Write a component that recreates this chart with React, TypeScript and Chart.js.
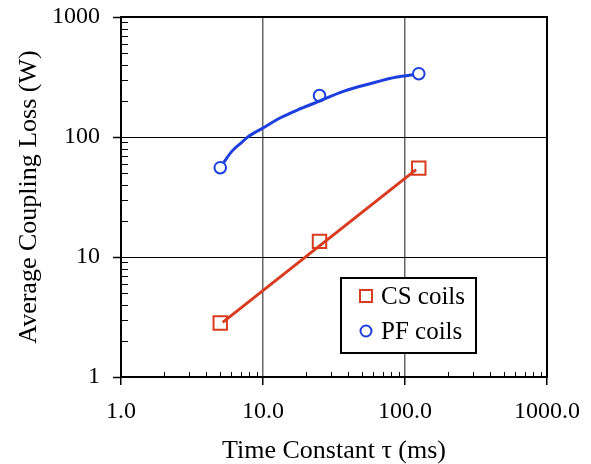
import React, { useEffect, useRef } from 'react';
import { Chart, registerables } from 'chart.js';

Chart.register(...registerables);

// ---- data ----
const tauMs = [5, 25, 125];
const csLoss = [2.82, 13.5, 55];
const pfLoss = [55.5, 221, 337];
const csFitTau = [5.2, 119.7];
const csFitLoss = [2.85, 53.4];
const pfFitTau = [5.29, 6.03, 7.09, 7.81, 10, 13.5, 17.7, 23.2, 36.8, 56.7, 87.5, 114.6];
const pfFitLoss = [61.4, 75.9, 90.2, 100, 119, 146, 169, 192, 240, 278, 316, 330];
const xMajorTicks = [1, 10, 100, 1000];
const yMajorTicks = [1, 10, 100, 1000];
const minorMultipliers = [2, 3, 4, 5, 6, 7, 8, 9];
const seriesLabels = ['CS coils', 'PF coils'];

const RED = '#d93b1f';
const BLUE = '#1c3fde';
const FONT = "'Liberation Serif', 'Times New Roman', serif";

const minorTicksPlugin = {
  id: 'minorTicksAndFrame',
  beforeDatasetsDraw(chart: any) {
    const { ctx, chartArea } = chart;
    const xs = chart.scales.x;
    const ys = chart.scales.y;
    ctx.save();
    ctx.strokeStyle = '#000';
    ctx.lineWidth = 1;
    for (let k = 0; k < 3; k++) {
      for (const m of minorMultipliers) {
        const v = m * Math.pow(10, k);
        const py = Math.round(ys.getPixelForValue(v)) + 0.5;
        ctx.beginPath();
        ctx.moveTo(chartArea.left, py);
        ctx.lineTo(chartArea.left + 7, py);
        ctx.stroke();
        const px = Math.round(xs.getPixelForValue(v)) + 0.5;
        ctx.beginPath();
        ctx.moveTo(px, chartArea.bottom);
        ctx.lineTo(px, chartArea.bottom - 5);
        ctx.stroke();
      }
    }
    ctx.lineWidth = 2;
    ctx.strokeRect(chartArea.left, chartArea.top, chartArea.right - chartArea.left, chartArea.bottom - chartArea.top);
    ctx.restore();
  },
  afterDatasetsDraw(chart: any) {
    const { ctx, chartArea } = chart;
    const bx = chartArea.left + 220;
    const by = chartArea.top + 261;
    const bw = 135;
    const bh = 75;
    ctx.save();
    ctx.fillStyle = '#fff';
    ctx.fillRect(bx, by, bw, bh);
    ctx.strokeStyle = '#000';
    ctx.lineWidth = 2;
    ctx.strokeRect(bx, by, bw, bh);
    const rows = [by + 18, by + 53];
    ctx.lineWidth = 2;
    ctx.strokeStyle = RED;
    ctx.strokeRect(bx + 19, rows[0] - 6, 12, 12);
    ctx.strokeStyle = BLUE;
    ctx.beginPath();
    ctx.arc(bx + 25, rows[1], 5.5, 0, Math.PI * 2);
    ctx.stroke();
    ctx.fillStyle = '#000';
    ctx.font = `25px ${FONT}`;
    ctx.textBaseline = 'middle';
    ctx.textAlign = 'left';
    ctx.fillText(seriesLabels[0], bx + 40, rows[0] + 1);
    ctx.fillText(seriesLabels[1], bx + 40, rows[1] + 1);
    ctx.restore();
  },
};

export default function App() {
  const ref = useRef<HTMLCanvasElement>(null);
  useEffect(() => {
    if (!ref.current) return;
    const chart = new Chart(ref.current, {
      type: 'scatter',
      data: {
        datasets: [
          {
            label: seriesLabels[0],
            data: tauMs.map((t, i) => ({ x: t, y: csLoss[i] })),
            pointStyle: 'rect',
            pointRadius: 9.5,
            pointBorderWidth: 2,
            borderColor: RED,
            backgroundColor: 'rgba(0,0,0,0)',
            showLine: false,
          },
          {
            label: seriesLabels[1],
            data: tauMs.map((t, i) => ({ x: t, y: pfLoss[i] })),
            pointStyle: 'circle',
            pointRadius: 5.8,
            pointBorderWidth: 2,
            borderColor: BLUE,
            backgroundColor: 'rgba(0,0,0,0)',
            showLine: false,
          },
          {
            label: 'CS fit',
            data: csFitTau.map((t, i) => ({ x: t, y: csFitLoss[i] })),
            showLine: true,
            pointRadius: 0,
            borderColor: RED,
            borderWidth: 3,
          },
          {
            label: 'PF fit',
            data: pfFitTau.map((t, i) => ({ x: t, y: pfFitLoss[i] })),
            showLine: true,
            pointRadius: 0,
            borderColor: BLUE,
            borderWidth: 3,
            cubicInterpolationMode: 'monotone',
          },
        ],
      },
      options: {
        responsive: false,
        animation: false,
        devicePixelRatio: 1,
        layout: { autoPadding: false, padding: { top: 17, right: 44, left: 0, bottom: 0 } },
        plugins: { legend: { display: false }, tooltip: { enabled: false } },
        scales: {
          x: {
            type: 'logarithmic',
            min: 1,
            max: 1000,
            afterBuildTicks: (s: any) => {
              s.ticks = xMajorTicks.map((v) => ({ value: v, major: true }));
            },
            afterFit: (s: any) => {
              s.height = 87;
              s.paddingLeft = 0;
              s.paddingRight = 0;
            },
            ticks: {
              callback: (v: any) => Number(v).toFixed(1),
              font: { family: FONT, size: 24 },
              color: '#000',
              padding: 12,
              maxRotation: 0,
              autoSkip: false,
            },
            grid: {
              color: '#666',
              lineWidth: 1.5,
              tickColor: '#000',
              tickLength: 8,
              tickWidth: 1.5,
            },
            border: { display: false },
            title: {
              display: true,
              text: 'Time Constant τ (ms)',
              font: { family: FONT, size: 26, lineHeight: 1 },
              color: '#000',
              padding: { top: 0, bottom: 0 },
            },
          },
          y: {
            type: 'logarithmic',
            min: 1,
            max: 1000,
            afterBuildTicks: (s: any) => {
              s.ticks = yMajorTicks.map((v) => ({ value: v, major: true }));
            },
            afterFit: (s: any) => {
              s.width = 121;
              s.paddingTop = 0;
              s.paddingBottom = 0;
            },
            ticks: {
              callback: (v: any) => String(Number(v)),
              font: { family: FONT, size: 24 },
              color: '#000',
              padding: 13,
              autoSkip: false,
            },
            grid: {
              color: '#000',
              lineWidth: 1,
              tickColor: '#000',
              tickLength: 8,
              tickWidth: 1.5,
            },
            border: { display: false },
            title: {
              display: true,
              text: 'Average Coupling Loss (W)',
              font: { family: FONT, size: 26, lineHeight: 1.2 },
              color: '#000',
              padding: { top: 14, bottom: 0 },
            },
          },
        },
      },
      plugins: [minorTicksPlugin],
    } as any);
    return () => chart.destroy();
  }, []);
  return (
    <div style={{ position: 'absolute', left: 0, top: 0, width: 591, height: 464 }}>
      <canvas ref={ref} width={591} height={464} style={{ display: 'block' }} />
    </div>
  );
}
